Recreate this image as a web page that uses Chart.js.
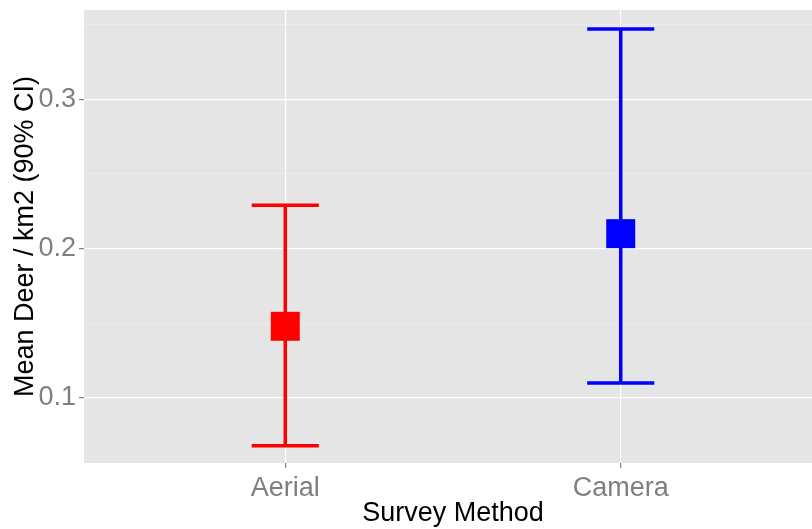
<!DOCTYPE html>
<html>
<head>
<meta charset="utf-8">
<script src="https://cdn.jsdelivr.net/npm/chart.js@4.4.0/dist/chart.umd.min.js"></script>
<style>
  html, body { margin: 0; padding: 0; overflow: hidden; background: #fff; }
  canvas { display: block; }
</style>
</head>
<body>
<canvas id="canvas" width="822" height="529" style="width:822px;height:529px"></canvas>
<script>
// survey results
const categories = ['Aerial', 'Camera'];
const meanDeer = [0.148, 0.210];
const lowerCI = [0.068, 0.110];
const upperCI = [0.229, 0.347];
const colors = ['#FF0000', '#0000FF'];

// y ticks, ggplot style major + minor grid
const yMajorTicks = [0.1, 0.2, 0.3];
const yMinorTicks = [0.15, 0.25, 0.35];

const capHalf = 0.1;   // error bar cap half width, in category units

function isMajor(v) {
    return yMajorTicks.some(t => Math.abs(t - v) < 1e-9);
}

function noPad(s) {
    s.paddingLeft = 0;
    s.paddingRight = 0;
    s.paddingTop = 0;
    s.paddingBottom = 0;
}

const panelBg = {
    id: 'panelBg',
    beforeDraw(chart) {
        const { ctx, chartArea: a } = chart;
        ctx.save();
        ctx.fillStyle = '#E5E5E5';
        ctx.fillRect(a.left, a.top, a.right - a.left, a.bottom - a.top);
        ctx.restore();
    }
};

// means drawn first in the list so they end up on top
const datasets = [{
    label: 'mean',
    data: categories.map((c, i) => ({ x: i + 1, y: meanDeer[i] })),
    pointStyle: 'rect',
    pointRadius: 20.5,
    pointHoverRadius: 20.5,
    pointBorderWidth: 0,
    pointBackgroundColor: colors,
    showLine: false
}];

categories.forEach(function (c, i) {
    const x = i + 1;
    datasets.push({
        label: c + ' CI',
        data: [
            { x: x - capHalf, y: lowerCI[i] }, { x: x + capHalf, y: lowerCI[i] },
            { x: x, y: null },
            { x: x, y: lowerCI[i] }, { x: x, y: upperCI[i] },
            { x: x, y: null },
            { x: x - capHalf, y: upperCI[i] }, { x: x + capHalf, y: upperCI[i] }
        ],
        showLine: true,
        spanGaps: false,
        borderColor: colors[i],
        borderWidth: 3.5,
        pointRadius: 0,
        pointHoverRadius: 0,
        tension: 0
    });
});

const ctx = document.getElementById('canvas').getContext('2d');
const myChart = new Chart(ctx, {
    type: 'scatter',
    data: { datasets: datasets },
    plugins: [panelBg],
    options: {
        responsive: false,
        animation: false,
        layout: { autoPadding: false, padding: { top: 10, left: 0, right: 0, bottom: 0 } },
        plugins: {
            legend: { display: false },
            tooltip: { enabled: false }
        },
        scales: {
            x: {
                type: 'linear',
                min: 0.4,
                max: 2.6,
                afterBuildTicks: s => { s.ticks = categories.map((c, i) => ({ value: i + 1 })); },
                afterFit: s => { s.height = 66; noPad(s); },
                border: { display: false },
                grid: { color: '#FFFFFF', lineWidth: 1.2, tickColor: '#7F7F7F', tickLength: 5 },
                ticks: {
                    autoSkip: false,
                    maxRotation: 0,
                    padding: 4,
                    color: '#7F7F7F',
                    font: { family: 'Liberation Sans', size: 27 },
                    callback: v => categories[Math.round(v) - 1]
                },
                title: {
                    display: true,
                    text: 'Survey Method',
                    color: '#000000',
                    font: { family: 'Liberation Sans', size: 27, lineHeight: 1 },
                    padding: { top: 0, bottom: 2 }
                }
            },
            y: {
                min: 0.0565,
                max: 0.3597,
                afterBuildTicks: s => {
                    s.ticks = yMajorTicks.concat(yMinorTicks).sort().map(v => ({ value: v }));
                },
                afterFit: s => { s.width = 84; noPad(s); },
                border: { display: false },
                grid: {
                    color: c => isMajor(c.tick.value) ? '#FFFFFF' : '#F2F2F2',
                    lineWidth: c => isMajor(c.tick.value) ? 1.2 : 0.6,
                    tickColor: c => isMajor(c.tick.value) ? '#7F7F7F' : 'rgba(0,0,0,0)',
                    tickLength: 5
                },
                ticks: {
                    autoSkip: false,
                    padding: 3,
                    color: '#7F7F7F',
                    font: { family: 'Liberation Sans', size: 27 },
                    callback: v => isMajor(v) ? v.toFixed(1) : ''
                },
                title: {
                    display: true,
                    text: 'Mean Deer / km2 (90% CI)',
                    color: '#000000',
                    font: { family: 'Liberation Sans', size: 27, lineHeight: 1 },
                    padding: { top: 12, bottom: 0 }
                }
            }
        }
    }
});
</script>
</body>
</html>
